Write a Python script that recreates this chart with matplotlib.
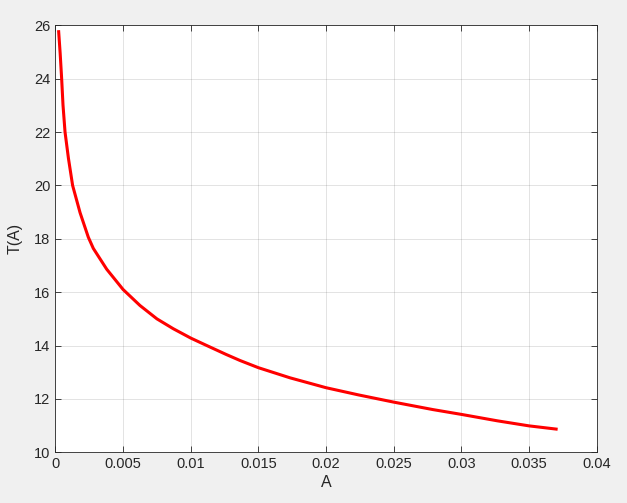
import numpy as np
import matplotlib
matplotlib.use("Agg")
from matplotlib import pyplot as plt

# values
a_vals = [0.00024, 0.00035, 0.00046, 0.00056, 0.00071, 0.00096, 0.00127, 0.00182,
          0.00243, 0.0028, 0.00379, 0.005, 0.00625, 0.0075, 0.00871, 0.01,
          0.0111, 0.0126, 0.01364, 0.015, 0.01734, 0.02, 0.0224, 0.025,
          0.0279, 0.03, 0.03265, 0.035, 0.037]
t_vals = [25.76, 24.95, 24.0, 23.01, 22.0, 21.02, 20.0, 18.98,
          18.06, 17.64, 16.86, 16.1, 15.5, 15.0, 14.63, 14.28,
          14.02, 13.67, 13.44, 13.17, 12.79, 12.42, 12.15, 11.88,
          11.6, 11.42, 11.18, 10.99, 10.87]

x_ticks = [0, 0.005, 0.01, 0.015, 0.02, 0.025, 0.03, 0.035, 0.04]
x_labels = ['0', '0.005', '0.01', '0.015', '0.02', '0.025', '0.03', '0.035', '0.04']
y_ticks = [10, 12, 14, 16, 18, 20, 22, 24, 26]

plt.rcParams['font.family'] = ['Liberation Sans', 'DejaVu Sans']

fig = plt.figure(figsize=(6.27, 5.03), dpi=100, facecolor='#f0f0f0')
ax = fig.add_axes([0.0884, 0.1008, 0.8633, 0.8489])

ax.plot(a_vals, t_vals, color='red', linewidth=2.2, solid_joinstyle='round')

ax.set_xlim(0, 0.04)
ax.set_ylim(10, 26)
ax.set_xticks(x_ticks)
ax.set_xticklabels(x_labels)
ax.set_yticks(y_ticks)
ax.grid(True, color='#262626', alpha=0.15, linewidth=0.6)
ax.tick_params(direction='in', top=True, right=True, length=4, width=0.6,
               labelsize=10.5, colors='#262626', labelcolor='#262626')
for s in ax.spines.values():
    s.set_color('#262626')
    s.set_linewidth(0.6)

ax.set_xlabel('A', fontsize=11.5, color='#262626', labelpad=3)
ax.set_ylabel('T(A)', fontsize=11.5, color='#262626', labelpad=8)

fig.savefig('out.png', dpi=100, facecolor=fig.get_facecolor())
